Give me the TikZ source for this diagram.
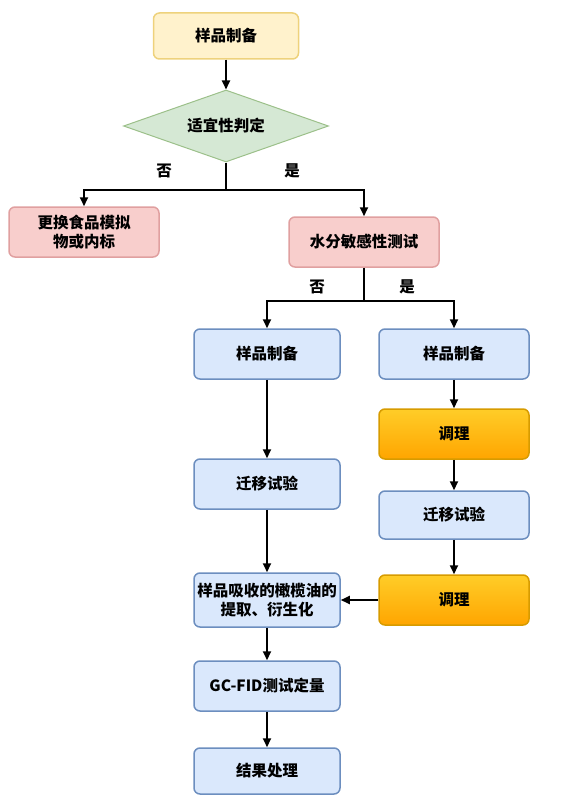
\documentclass[tikz,border=0pt]{standalone}
\usepackage{fontspec}
\setmainfont{Noto Sans CJK SC}
\usetikzlibrary{shapes.geometric,arrows.meta}
\definecolor{bluefill}{HTML}{DAE8FC}
\definecolor{blueline}{HTML}{6C8EBF}
\definecolor{yelfill}{HTML}{FFF2CC}
\definecolor{yelline}{HTML}{EED27C}
\definecolor{redfill}{HTML}{F8CECC}
\definecolor{redline}{HTML}{E0A0A0}
\definecolor{grnfill}{HTML}{D5E8D4}
\definecolor{grnline}{HTML}{9CC08A}
\definecolor{orgtop}{HTML}{FFCD28}
\definecolor{orgbot}{HTML}{FFA500}
\definecolor{orgline}{HTML}{D79B00}
\begin{document}
\begin{tikzpicture}[x=1pt,y=-1pt,
  font=\fontsize{15.5}{18.5}\selectfont\bfseries,
  box/.style={rectangle,rounded corners=6pt,line width=1.5pt,align=center,inner sep=0pt,minimum width=146pt,minimum height=50pt},
  bluebox/.style={box,draw=blueline,fill=bluefill},
  yelbox/.style={box,draw=yelline,fill=yelfill,minimum width=145pt,minimum height=46pt},
  redbox/.style={box,draw=redline,fill=redfill,minimum width=150pt},
  orgbox/.style={box,draw=orgline,top color=orgtop,bottom color=orgbot,minimum width=150pt},
  judge/.style={diamond,aspect=2.85,draw=grnline,fill=grnfill,line width=1pt,inner sep=0pt,minimum width=205pt,minimum height=72pt},
  arr/.style={line width=2pt,-{Triangle[width=8pt,length=9pt]}},
  ln/.style={line width=2pt}]
\useasboundingbox (0,0) rectangle (560,805);
\node[yelbox] (s0) at (226,36) {样品制备};
\node[judge] (jd) at (226,126) {适宜性判定};
\draw[arr] (s0) -- (jd);
\coordinate (c1) at (226,190);
\node (no1) at (164,171) {否}; \node (yes1) at (292,171) {是};
\node[redbox] (alt) at (84,232) {更换食品模拟\\物或内标};
\node[redbox] (wat) at (364,242) {水分敏感性测试};
\draw[ln] (jd) -- (c1);
\draw[arr] (c1) -| (alt);
\draw[arr] (c1) -| (wat);
\coordinate (c2) at (364,301);
\node (no2) at (317,287) {否}; \node (yes2) at (407,287) {是};
\draw[ln] (wat) -- (c2);
%left branch
\node[bluebox] (s1) at (267,354) {样品制备};
\node[bluebox] (m1) at (267,484) {迁移试验};
\node[bluebox,minimum height=54pt] (ext) at (267,600) {样品吸收的橄榄油的\\提取、衍生化};
\node[bluebox] (gc) at (267,686) {GC-FID测试定量};
\node[bluebox,minimum height=46pt] (res) at (267,771) {结果处理};
%right branch
\node[bluebox,minimum width=150pt] (s2) at (454,354) {样品制备};
\node[orgbox] (t1) at (454,434) {调理};
\node[bluebox,minimum width=150pt,minimum height=48pt] (m2) at (454,515) {迁移试验};
\node[orgbox] (t2) at (454,600) {调理};
\draw[arr] (c2) -| (s1);
\draw[arr] (c2) -| (s2);
\draw[arr] (s1) -- (m1);
\draw[arr] (m1) -- (ext);
\draw[arr] (ext) -- (gc);
\draw[arr] (gc) -- (res);
\draw[arr] (s2) -- (t1);
\draw[arr] (t1) -- (m2);
\draw[arr] (m2) -- (t2);
\draw[arr] (t2) -- (ext);
\end{tikzpicture}
\end{document}
